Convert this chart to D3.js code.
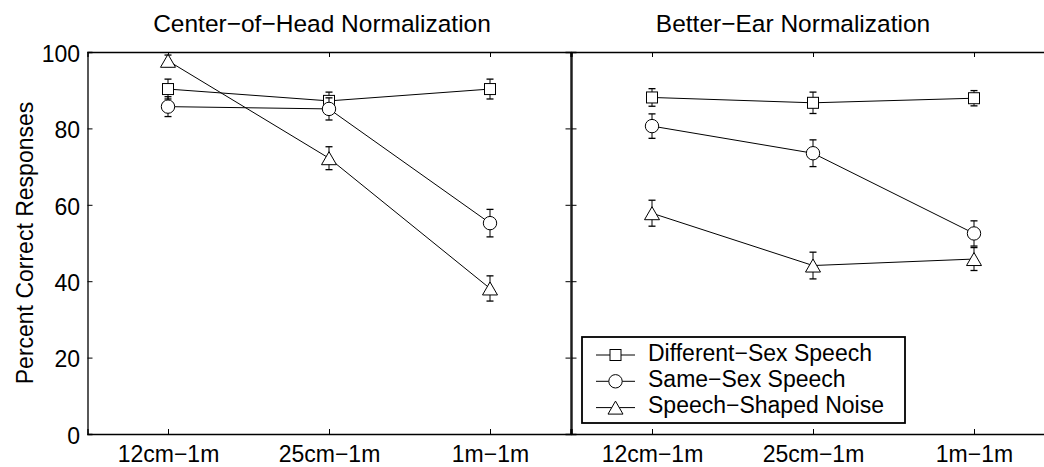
<!DOCTYPE html>
<html><head><meta charset="utf-8">
<script src="https://cdn.jsdelivr.net/npm/d3@7"></script>
<style>body{margin:0;background:#fff}svg{display:block}text{font-family:"Liberation Sans",Arial,sans-serif;fill:#000}</style>
</head><body><svg id="c" width="1044" height="467"></svg>
<script>
const conditions = ["12cm\u22121m", "25cm\u22121m", "1m\u22121m"];
const panelTitles = ["Center\u2212of\u2212Head Normalization", "Better\u2212Ear Normalization"];
const seriesNames = ["Different\u2212Sex Speech", "Same\u2212Sex Speech", "Speech\u2212Shaped Noise"];
const seriesMarkers = ["square", "circle", "triangle"];
const yTicks = [0, 20, 40, 60, 80, 100];
const yLabel = "Percent Correct Responses";
// Center-of-Head panel
const cohDiffSex = [90.3, 87.2, 90.3];
const cohDiffSexErr = [2.6, 2.3, 2.6];
const cohSameSex = [85.7, 85.1, 55.2];
const cohSameSexErr = [2.6, 2.9, 3.6];
const cohNoise = [97.7, 72.2, 38.1];
const cohNoiseErr = [1.5, 3.0, 3.3];
// Better-Ear panel
const beDiffSex = [88.1, 86.7, 87.9];
const beDiffSexErr = [2.3, 2.8, 2.0];
const beSameSex = [80.6, 73.5, 52.5];
const beSameSexErr = [3.2, 3.5, 3.3];
const beNoise = [57.8, 44.1, 45.8];
const beNoiseErr = [3.4, 3.5, 3.0];

const panels = [
  {title: panelTitles[0], x0: 87.5, x1: 570.5, titleX: 322,
   series: [[cohDiffSex, cohDiffSexErr], [cohSameSex, cohSameSexErr], [cohNoise, cohNoiseErr]]},
  {title: panelTitles[1], x0: 571.5, x1: 1054.5, titleX: 793,
   series: [[beDiffSex, beDiffSexErr], [beSameSex, beSameSexErr], [beNoise, beNoiseErr]]}
];

const FS = "23px";
const svg = d3.select("#c");
const yTop = 52, yBot = 434;
const y = d3.scaleLinear().domain([0, 100]).range([yBot, yTop]);

function marker(g, type, cx, cy) {
  if (type === "square") {
    g.append("rect").attr("x", cx - 5.5).attr("y", cy - 5.5).attr("width", 11).attr("height", 11)
      .attr("fill", "#fff").attr("stroke", "#000").attr("stroke-width", 1);
  } else if (type === "circle") {
    g.append("circle").attr("cx", cx).attr("cy", cy).attr("r", 6.7)
      .attr("fill", "#fff").attr("stroke", "#000").attr("stroke-width", 1);
  } else {
    const w = 7.5, h = 6.5;
    g.append("path").attr("d", `M${cx},${cy - h}L${cx + w},${cy + h}L${cx - w},${cy + h}Z`)
      .attr("fill", "#fff").attr("stroke", "#000").attr("stroke-width", 1);
  }
}

panels.forEach((p, pi) => {
  const x = d3.scaleLinear().domain([0.5, 3.5]).range([p.x0, p.x1]);
  const g = svg.append("g");
  const idx = conditions.map((c, i) => i + 1);

  const left = g.append("g").attr("transform", `translate(${p.x0},0)`)
    .call(d3.axisLeft(y).tickValues(yTicks).tickSize(-5)
      .tickFormat(pi === 0 ? d3.format("d") : () => ""));
  const right = g.append("g").attr("transform", `translate(${p.x1},0)`)
    .call(d3.axisRight(y).tickValues(yTicks).tickSize(-5).tickFormat(() => ""));
  const bottom = g.append("g").attr("transform", `translate(0,${yBot})`)
    .call(d3.axisBottom(x).tickValues(idx).tickSize(-5)
      .tickFormat(d => conditions[d - 1]));
  const top = g.append("g").attr("transform", `translate(0,${yTop})`)
    .call(d3.axisTop(x).tickValues(idx).tickSize(-5).tickFormat(() => ""));
  [left, right, bottom, top].forEach(a => {
    a.select(".domain").attr("stroke", "#000").attr("stroke-width", 1.3);
    a.selectAll(".tick line").attr("stroke", "#000").attr("stroke-width", 1);
    a.selectAll("text").style("font-size", FS).attr("fill", "#000");
  });
  left.selectAll(".tick text").attr("x", -7.5).attr("dy", "9.3px");
  bottom.selectAll(".tick text").attr("y", 27.5).attr("dy", "0");

  g.append("text").attr("x", p.titleX).attr("y", 32).attr("text-anchor", "middle")
    .style("font-size", "24.5px").text(p.title);

  p.series.forEach(([vals, errs], si) => {
    const sg = g.append("g");
    const line = d3.line().x((d, i) => x(i + 1)).y(d => y(d));
    sg.append("path").attr("d", line(vals)).attr("fill", "none").attr("stroke", "#000").attr("stroke-width", 1);
    vals.forEach((v, i) => {
      const cx = x(i + 1);
      const ya = y(v - errs[i]), yb = y(v + errs[i]);
      sg.append("line").attr("x1", cx).attr("x2", cx).attr("y1", ya).attr("y2", yb).attr("stroke", "#000").attr("stroke-width", 1);
      [ya, yb].forEach(yy => sg.append("line").attr("x1", cx - 3.5).attr("x2", cx + 3.5).attr("y1", yy).attr("y2", yy)
        .attr("stroke", "#000").attr("stroke-width", 1.3));
    });
    vals.forEach((v, i) => marker(sg, seriesMarkers[si], x(i + 1), y(v)));
  });
});

svg.append("text").attr("transform", `translate(33,243) rotate(-90)`)
  .attr("text-anchor", "middle").style("font-size", FS).text(yLabel);

const lg = svg.append("g");
lg.append("rect").attr("x", 582).attr("y", 337).attr("width", 323).attr("height", 86)
  .attr("fill", "#fff").attr("stroke", "#000").attr("stroke-width", 1.8);
seriesNames.forEach((name, i) => {
  const cy = 355 + i * 26.3;
  lg.append("line").attr("x1", 596).attr("x2", 635).attr("y1", cy).attr("y2", cy).attr("stroke", "#000").attr("stroke-width", 1);
  marker(lg, seriesMarkers[i], 615.5, cy);
  lg.append("text").attr("x", 648).attr("y", cy + 5.8).style("font-size", FS).text(name);
});
</script></body></html>
